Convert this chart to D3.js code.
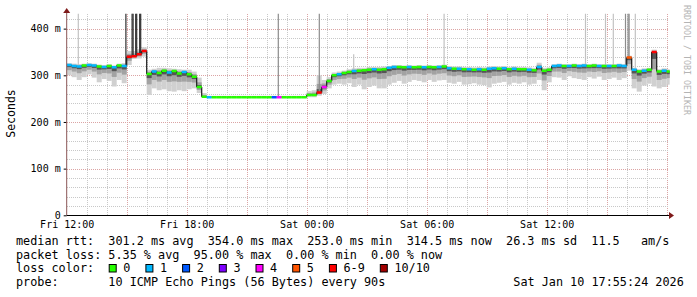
<!DOCTYPE html>
<html>
<head>
<meta charset="utf-8">
<script src="https://d3js.org/d3.v7.min.js"></script>
<style>
  body { margin: 0; background: #fff; }
  svg text { font-family: "DejaVu Sans Mono", monospace; fill: #000; }
</style>
</head>
<body>
<div id="chart"></div>
<script>
// one sample every 15 minutes, starting Fri 12:00
const stepMinutes = 15;
const startTime = new Date(2026, 0, 9, 12, 0);

// median rtt (ms)
const rttMedian = [
  322,320,319,321,322,321,319,318,320,317,321,320,
  340,341,345,352,
  303,308,305,310,306,309,304,307,302,297,275,254,
  253,253,253,253,253,253,253,253,253,253,253,253,253,253,253,253,253,253,253,253,
  258,258,263,275,288,300,302,305,307,309,310,311,
  312,313,312,313,
  316,318,318,317,318,317,318,317,318,317,318,319,315,314,314,313,313,312,313,312,314,315,314,315,313,314,313,313,312,311,318,310,312,
  320,321,320,320,321,320,321,320,321,320,320,320,320,321,320,
  338,312,308,310,312,350,308,310,308
];
// lost pings out of 10
const lossPings = [
  1,1,1,0,1,1,0,1,0,1,0,1,
  7,7,7,7,
  0,1,0,0,1,0,0,1,0,0,0,0,
  1,0,0,0,0,0,0,0,0,0,0,0,0,2,4,0,0,0,0,0,
  0,0,6,4,0,0,1,0,0,1,0,0,
  0,1,0,0,
  1,1,0,0,1,0,0,1,0,0,1,0,1,0,1,0,1,0,1,0,1,1,0,1,0,1,0,0,1,0,1,0,0,
  1,1,0,1,0,1,1,0,0,1,0,1,0,1,1,
  5,1,0,1,0,6,0,1,0
];
// smoke: fastest and slowest ping (ms)
const smokeLow = [
  300,296,290,296,302,295,285,292,288,276,290,283,
  322,335,336,340,
  258,272,268,270,266,265,268,266,270,272,262,252,
  252,252,252,252,252,252,252,252,252,252,252,252,252,252,252,252,252,252,252,252,
  253,253,256,260,272,280,282,280,283,275,280,270,
  275,278,272,272,
  280,284,288,282,286,290,288,285,290,286,289,290,284,282,286,280,281,283,280,279,274,282,284,286,280,284,282,285,280,282,290,268,285,
  296,295,290,298,294,292,290,296,293,297,290,292,295,290,294,
  310,272,265,278,282,276,272,275,280
];
const smokeHigh = [
  326,325,324,325,326,325,323,322,324,321,325,326,
  352,352,356,360,
  312,314,316,316,315,314,313,312,312,308,295,262,
  256,256,256,256,256,256,256,256,256,256,256,256,256,256,256,256,256,256,256,256,
  266,268,300,290,296,306,308,310,313,315,316,316,
  318,318,318,319,
  320,322,322,321,322,321,322,321,322,321,322,323,320,319,319,318,318,317,318,317,319,320,319,320,318,319,318,318,317,316,327,316,317,
  324,325,324,324,325,324,325,324,325,324,324,324,324,325,324,
  342,316,313,315,316,355,313,315,313
];
// single outlier pings (hours after start, value ms, how many pings)
const spikeHours = [0.58, 2.96, 3.27, 3.32, 3.45, 3.5, 3.65, 3.7, 10.58, 12.63, 14.35, 18.87, 25.94, 26.94, 27.33, 27.94, 28.07, 28.12, 28.43];
const spikeTop   = [440, 440, 440, 440, 440, 440, 440, 440, 440, 440, 345, 440, 440, 440, 440, 440, 440, 440, 440];
const spikePings = [1, 3, 3, 3, 3, 3, 3, 3, 2, 2, 1, 1, 1, 1, 1, 2, 2, 2, 1];

const yTicks = [0, 100, 200, 300, 400];
const yTickLabels = ["0", "100 m", "200 m", "300 m", "400 m"];
const lossLabels = ["0", "1", "2", "3", "4", "5", "6-9", "10/10"];
const lossColors = ["#26ff00", "#00b8ff", "#0059ff", "#7e00ff", "#ff00fe", "#ff5500", "#ff0000", "#a10000"];

const legendRtt  = "median rtt:  301.2 ms avg  354.0 ms max  253.0 ms min  314.5 ms now  26.3 ms sd  11.5   am/s";
const legendLoss = "packet loss: 5.35 % avg  95.00 % max  0.00 % min  0.00 % now";
const legendProbe = "probe:       10 ICMP Echo Pings (56 Bytes) every 90s";
const stampText = "Sat Jan 10 17:55:24 2026";

const W = 697, H = 297;
const svg = d3.select("#chart").append("svg").attr("width", W).attr("height", H);

const x0 = 66.7, x1 = 669.7, yBottom = 215.3, yTop = 13.7;
const x = d3.scaleTime()
  .domain([startTime, new Date(+startTime + 30.15 * 3600e3)])
  .range([x0, x1]);
const y = d3.scaleLinear().domain([0, 432]).range([yBottom, yTop]);
const tAt = i => new Date(+startTime + i * stepMinutes * 60e3);
const lossIndex = p => p >= 10 ? 7 : p >= 6 ? 6 : p;
const px = v => Math.round(v) + 0.5;

// grid
const grid = svg.append("g").attr("shape-rendering", "crispEdges");
const hours = d3.timeHour.every(1).range(new Date(+startTime + 1), x.domain()[1]);
grid.selectAll("line.v").data(hours).join("line")
  .attr("x1", d => px(x(d))).attr("x2", d => px(x(d)))
  .attr("y1", yTop).attr("y2", yBottom)
  .attr("stroke", d => d.getHours() % 3 === 0 ? "#dba4a4" : "#c8c8c8")
  .attr("stroke-dasharray", "1,1");
const hvals = d3.range(20, 432, 20);
grid.selectAll("line.h").data(hvals).join("line")
  .attr("x1", x0).attr("x2", 668)
  .attr("y1", d => px(y(d))).attr("y2", d => px(y(d)))
  .attr("stroke", d => d % 100 === 0 ? "#dba4a4" : "#c8c8c8")
  .attr("stroke-dasharray", "1,1");

// plot area
svg.append("clipPath").attr("id", "plot")
  .append("rect").attr("x", x0).attr("y", yTop).attr("width", x1 - x0).attr("height", yBottom - yTop);
const plot = svg.append("g").attr("clip-path", "url(#plot)");

const idx = d3.range(rttMedian.length);
const bandX = i => x(tAt(i));
const bandW = i => x(tAt(i + 1)) - x(tAt(i));

// smoke, from light outer band to dark core
const smokeLayers = [
  { f: 1.0, c: "#d0d0d0" },
  { f: 0.5, c: "#a2a2a2" },
  { f: 0.2, c: "#555555" }
];
smokeLayers.forEach(layer => {
  plot.append("g").selectAll("rect").data(idx).join("rect")
    .attr("x", bandX).attr("width", bandW)
    .attr("y", i => y(rttMedian[i] + (smokeHigh[i] - rttMedian[i]) * layer.f))
    .attr("height", i => y(rttMedian[i] - (rttMedian[i] - smokeLow[i]) * layer.f) -
                         y(rttMedian[i] + (smokeHigh[i] - rttMedian[i]) * layer.f))
    .attr("fill", layer.c);
});

// outlier pings
const spikeShade = d3.scaleOrdinal().domain([1, 2, 3]).range(["#c2c2c2", "#8c8c8c", "#2e2e2e"]);
plot.append("g").selectAll("line").data(spikeHours).join("line")
  .attr("x1", h => x(new Date(+startTime + h * 3600e3)))
  .attr("x2", h => x(new Date(+startTime + h * 3600e3)))
  .attr("y1", h => y(rttMedian[Math.floor(h * 60 / stepMinutes)]))
  .attr("y2", (h, k) => y(spikeTop[k]))
  .attr("stroke", (h, k) => spikeShade(spikePings[k]))
  .attr("stroke-width", 1.2);

// median: black connectors, coloured by loss
plot.append("g").selectAll("line").data(idx.slice(0, -1)).join("line")
  .attr("x1", i => bandX(i + 1)).attr("x2", i => bandX(i + 1))
  .attr("y1", i => y(rttMedian[i])).attr("y2", i => y(rttMedian[i + 1]))
  .attr("stroke", "#1a1a1a").attr("stroke-width", 1.2);
plot.append("g").selectAll("line").data(idx).join("line")
  .attr("x1", bandX).attr("x2", i => bandX(i) + bandW(i))
  .attr("y1", i => y(rttMedian[i])).attr("y2", i => y(rttMedian[i]))
  .attr("stroke", i => lossColors[lossIndex(lossPings[i])])
  .attr("stroke-width", 2.5);

// y axis
const yAxis = svg.append("g").attr("transform", `translate(${x0},0)`)
  .call(d3.axisLeft(y).tickValues(yTicks).tickFormat((d, i) => yTickLabels[i]).tickSize(3).tickPadding(3));
yAxis.select(".domain").remove();
yAxis.selectAll("text").style("font-size", "10px").attr("font-family", null);
yAxis.selectAll(".tick line").attr("stroke", "#000");
svg.append("line").attr("x1", x0).attr("x2", x0).attr("y1", yBottom).attr("y2", 12)
  .attr("stroke", "#8a5555").attr("stroke-width", 1);
svg.append("path").attr("d", `M${x0 - 3.5},13 L${x0 + 3.5},13 L${x0},8 Z`).attr("fill", "#7f1a1a");

// x axis
const labelTimes = d3.timeHour.every(6).range(startTime, tAt(rttMedian.length - 1));
const xAxis = svg.append("g").attr("transform", `translate(0,${yBottom})`)
  .call(d3.axisBottom(x).tickValues(labelTimes).tickFormat(d3.timeFormat("%a %H:%M")).tickSize(0).tickPadding(6));
xAxis.select(".domain").remove();
xAxis.selectAll("text").style("font-size", "10px").attr("font-family", null);
svg.append("line").attr("x1", x0).attr("x2", 670).attr("y1", 215.5).attr("y2", 215.5)
  .attr("stroke", "#000").attr("stroke-width", 1);
svg.append("path").attr("d", `M669,212 L674,215.5 L669,219 Z`).attr("fill", "#7f1a1a");

// axis title and watermark
svg.append("text").attr("transform", "translate(14.5,113.5) rotate(-90)")
  .attr("text-anchor", "middle").style("font-size", "11.5px").text("Seconds");
svg.append("text").attr("transform", "translate(684,5) rotate(90)")
  .style("font-size", "8.3px").style("fill", "#b4b4b4").text("RRDTOOL / TOBI OETIKER");

// legend
const fs = "11.8px";
svg.append("text").attr("x", 16).attr("y", 245).style("font-size", fs)
  .style("white-space", "pre").text(legendRtt);
svg.append("text").attr("x", 16).attr("y", 258.7).style("font-size", fs)
  .style("white-space", "pre").text(legendLoss);
svg.append("text").attr("x", 16).attr("y", 272.4).style("font-size", fs).text("loss color:");
let lx = 108.7;
lossLabels.forEach((lab, k) => {
  svg.append("rect").attr("x", lx + 0.5).attr("y", 264.5).attr("width", 7).attr("height", 7.5)
    .attr("fill", lossColors[k]).attr("stroke", "#000").attr("stroke-width", 1);
  svg.append("text").attr("x", lx + 14.6).attr("y", 272.4).style("font-size", fs).text(lab);
  lx += 36.7 + (lab.length - 1) * 7.1;
});
svg.append("text").attr("x", 16).attr("y", 286).style("font-size", fs)
  .style("white-space", "pre").text(legendProbe);
svg.append("text").attr("x", 513.3).attr("y", 286).style("font-size", fs).text(stampText);
</script>
</body>
</html>
